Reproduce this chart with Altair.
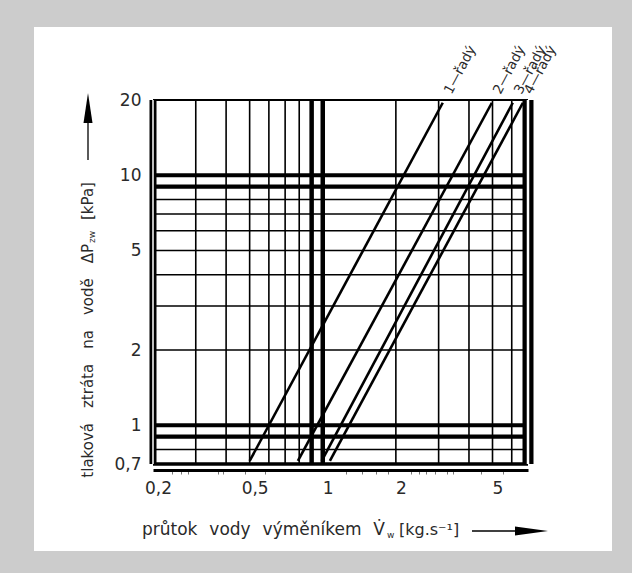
import altair as alt
import pandas as pd

# ---------------- data ----------------
series_names = ["1—řadý", "2—řadý", "3—řadý", "4—řadý"]
flow_low = [0.50, 0.79, 0.99, 1.07]      # kg/s at the lower end of each line
flow_high = [3.12, 4.97, 6.06, 6.67]     # kg/s at the upper end of each line
dp_low = [0.72, 0.72, 0.72, 0.72]        # kPa
dp_high = [19.5, 19.5, 19.5, 19.5]       # kPa

x_label_values = [0.2, 0.5, 1, 2, 5]
x_minor_ticks = [0.24, 0.26, 0.28, 0.37, 0.39, 0.48, 0.58, 1.25, 1.45, 1.65,
                 1.85, 2.3, 2.5, 2.65, 2.9, 3.25, 3.45, 4.5, 5.5]
y_label_values = [0.7, 1, 2, 5, 10, 20]

grid_x_thin = [0.3, 0.4, 0.5, 0.6, 0.7, 0.8, 2, 3, 4, 5, 6]
grid_x_thick = [0.9, 1]
grid_y_thin = [0.8, 2, 3, 4, 5, 6, 7, 8]
grid_y_thick = [0.9, 1, 9, 10]
x_edges = [0.2, 7]
y_top = [20]
y_bottom = [0.7]

x_title_main = "\u2002\u2009".join(["průtok", "vody", "výměníkem", "V\u0307"])
x_title_sub = "w"
x_title_unit = "[kg.s\u207b\u00b9]"
y_title_main = "\u2003".join(["tlaková", "ztráta", "na", "vodě", "ΔP"])
y_title_sub = "zw"
y_title_unit = "[kPa]"

# ---------------- chart ----------------
FONT = "DejaVu Sans"
TXT = "#2a2a2a"
W, H = 375, 364
PL, PT = 153, 100  # plot origin on the page

xs = alt.Scale(type="log", domain=[0.2, 7], nice=False)
ys = alt.Scale(type="log", domain=[0.7, 20], nice=False)

lab_test = f"indexof({x_label_values}, datum.value) >= 0"
x_axis = alt.Axis(
    values=x_label_values + x_minor_ticks,
    labelExpr=f"{lab_test} ? replace(format(datum.value, '~g'), '.', ',') : ''",
    title=None, grid=False, offset=6, zindex=1,
    domainColor="black", domainWidth=3,
    tickColor="#777777", tickSize=4, tickWidth=1,
    tickOpacity={"condition": {"test": lab_test, "value": 0}, "value": 1},
    labelFont=FONT, labelFontSize=17, labelColor=TXT, labelPadding=6,
    labelOffset=5, labelFlush=False, labelOverlap=False,
)
y_axis = alt.Axis(
    values=y_label_values,
    labelExpr="replace(format(datum.value, '~g'), '.', ',')",
    title=None, grid=False, domain=False, ticks=False, zindex=1,
    labelFont=FONT, labelFontSize=17, labelColor=TXT, labelPadding=12,
    labelFlush=False, labelOverlap=False,
)


def X(field):
    return alt.X(field, type="quantitative", scale=xs, axis=x_axis)


def Y(field):
    return alt.Y(field, type="quantitative", scale=ys, axis=y_axis)


lines_df = pd.DataFrame({
    "series": series_names * 2,
    "flow": flow_low + flow_high,
    "dp": dp_low + dp_high,
})
tops_df = pd.DataFrame({"series": series_names, "flow": flow_high, "dp": dp_high})

one = alt.Data(values=[{"k": 1}])


def vx(page_x):
    return alt.value(page_x - PL)


def vy(page_y):
    return alt.value(page_y - PT)


def vrules(values, width, color):
    return alt.Chart(pd.DataFrame({"v": values})).mark_rule(
        strokeWidth=width, color=color
    ).encode(x=X("v"))


def hrules(values, width, color):
    return alt.Chart(pd.DataFrame({"v": values})).mark_rule(
        strokeWidth=width, color=color
    ).encode(y=Y("v"))


panel = alt.Chart(one).mark_rect(color="white").encode(
    x=vx(34), x2=vx(612), y=vy(27), y2=vy(551)
)

series = alt.Chart(lines_df).mark_line(strokeWidth=2.6, color="black").encode(
    x=X("flow"), y=Y("dp"), detail="series:N",
)

series_labels = alt.Chart(tops_df).mark_text(
    angle=298, align="left", baseline="middle", dx=11,
    font=FONT, fontSize=13.5, color=TXT,
).encode(x=X("flow"), y=Y("dp"), text="series:N")


def txt(text, px, py, size, align, angle=0):
    kw = dict(text=text, font=FONT, fontSize=size, color=TXT, align=align,
              baseline="middle")
    if angle:
        kw["angle"] = angle
    return alt.Chart(one).mark_text(**kw).encode(x=vx(px), y=vy(py))


titles = [
    txt(x_title_main, 385, 530, 17, "right"),
    txt(x_title_sub, 387, 535, 9, "left"),
    txt(x_title_unit, 399, 530, 16, "left"),
    txt(y_title_main, 88, 244, 15, "right", 270),
    txt(y_title_sub, 92, 243, 9, "left", 270),
    txt(y_title_unit, 88, 220, 15, "left", 270),
]

arrows = [
    alt.Chart(one).mark_rule(strokeWidth=1.3, color="black").encode(
        x=vx(88), y=vy(160), y2=vy(118)),
    alt.Chart(one).mark_point(shape="M0,-1L0.3,1L-0.3,1Z", size=900,
                              filled=True, color="black", opacity=1).encode(
        x=vx(88), y=vy(108)),
    alt.Chart(one).mark_rule(strokeWidth=1.3, color="black").encode(
        x=vx(472), x2=vx(520), y=vy(531)),
    alt.Chart(one).mark_point(shape="M1,0L-1,-0.28L-1,0.28Z", size=1089,
                              filled=True, color="black", opacity=1).encode(
        x=vx(531.5), y=vy(531)),
]

chart = alt.layer(
    panel,
    vrules(grid_x_thin, 1.6, "black"),
    hrules(grid_y_thin, 1.6, "black"),
    vrules(grid_x_thick, 4.5, "black"),
    hrules(grid_y_thick, 4.2, "black"),
    hrules(y_top, 2, "black"),
    hrules(y_bottom, 3.5, "black"),
    vrules([x_edges[0]], 7, "black"),
    vrules([x_edges[0]], 1.5, "white"),
    vrules([x_edges[1]], 11, "black"),
    vrules([x_edges[1]], 2.5, "white"),
    series,
    series_labels,
    *titles,
    *arrows,
).properties(
    width=W, height=H,
    autosize=alt.AutoSizeParams(type="none"),
    padding={"left": PL, "top": PT, "right": 632 - PL - W, "bottom": 573 - PT - H},
    background="#cccccc",
).configure_view(stroke=None)

chart.save("out.html", embed_options={"renderer": "svg", "actions": False})
